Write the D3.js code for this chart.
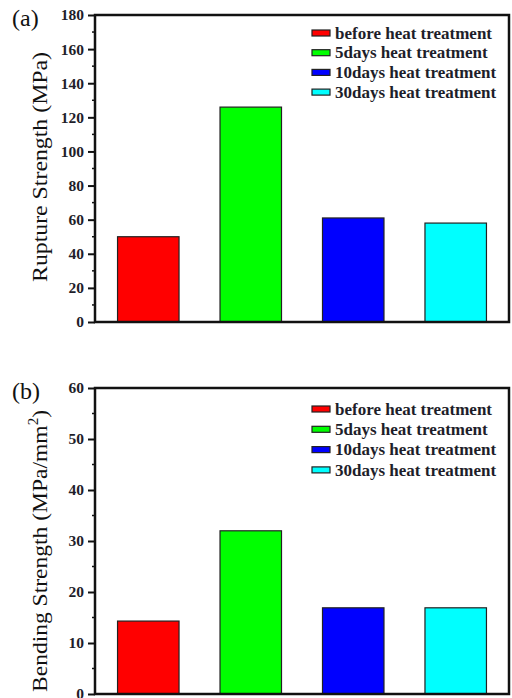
<!DOCTYPE html>
<html>
<head>
<meta charset="utf-8">
<script src="https://cdn.jsdelivr.net/npm/d3@7"></script>
<style>
  body { margin: 0; background: #fff; }
  text { font-family: "Liberation Serif", "Times New Roman", serif; }
</style>
</head>
<body>
<svg width="512" height="698"></svg>
<script>
var categories = ["before heat treatment", "5days heat treatment", "10days heat treatment", "30days heat treatment"];
var colors = ["#ff0000", "#00ff00", "#0000ff", "#00ffff"];
var ruptureValues = [50, 126, 61, 58];
var bendingValues = [14.3, 32, 16.9, 16.9];
var ruptureTicks = [0, 20, 40, 60, 80, 100, 120, 140, 160, 180];
var bendingTicks = [0, 10, 20, 30, 40, 50, 60];

var svg = d3.select("svg");

function drawPanel(p) {
    var g = svg.append("g");

    var x = d3.scaleBand()
        .domain(categories)
        .range([p.left, p.right])
        .paddingInner(0.4)
        .paddingOuter(0.22);

    var y = d3.scaleLinear()
        .domain([0, p.max])
        .range([p.bottom, p.top]);

    // minor ticks
    var minor = d3.range(p.minorStep, p.max, p.minorStep * 2);
    g.append("g")
        .selectAll("line")
        .data(minor)
        .enter()
        .append("line")
        .attr("x1", p.left - 3)
        .attr("x2", p.left)
        .attr("y1", d => y(d))
        .attr("y2", d => y(d))
        .attr("stroke", "#111")
        .attr("stroke-width", 1.5);

    var yAxis = g.append("g")
        .attr("transform", `translate(${p.left},0)`)
        .call(d3.axisLeft(y).tickValues(p.ticks).tickSize(7).tickPadding(4).tickSizeOuter(0));
    yAxis.select(".domain").remove();
    yAxis.selectAll(".tick line").attr("stroke", "#111").attr("stroke-width", 2);
    yAxis.selectAll(".tick text")
        .attr("font-weight", "bold")
        .attr("font-size", 15.5)
        .attr("fill", "#1e1e2a");

    // bars
    g.append("g")
        .selectAll("rect")
        .data(p.values)
        .enter()
        .append("rect")
        .attr("x", (d, i) => x(categories[i]))
        .attr("y", d => y(d))
        .attr("width", x.bandwidth())
        .attr("height", d => p.bottom - y(d))
        .attr("fill", (d, i) => colors[i])
        .attr("stroke", "#222")
        .attr("stroke-width", 1.2);

    // frame
    g.append("rect")
        .attr("x", p.left)
        .attr("y", p.top)
        .attr("width", p.right - p.left)
        .attr("height", p.bottom - p.top)
        .attr("fill", "none")
        .attr("stroke", "#111")
        .attr("stroke-width", 2.5);

    // legend
    var legend = g.append("g")
        .selectAll("g")
        .data(categories)
        .enter()
        .append("g")
        .attr("transform", (d, i) => `translate(312,${p.top + p.legendTop + i * p.legendStep})`);

    legend.append("rect")
        .attr("x", 0)
        .attr("y", -3)
        .attr("width", 18)
        .attr("height", 6)
        .attr("fill", (d, i) => colors[i])
        .attr("stroke", "#222")
        .attr("stroke-width", 1.2);

    legend.append("text")
        .attr("x", 23)
        .attr("dy", "0.33em")
        .attr("font-size", 17)
        .attr("font-weight", "bold")
        .attr("fill", "#1e1e2a")
        .text(d => d);

    // y label
    var label = g.append("text")
        .attr("transform", `translate(47,${p.labelY}) rotate(-90)`)
        .attr("text-anchor", "middle")
        .attr("font-size", 22)
        .attr("fill", "#111")
        .attr("textLength", p.labelLength)
        .attr("lengthAdjust", "spacingAndGlyphs");
    label.append("tspan").text(p.label);
    if (p.sup) {
        label.append("tspan").attr("font-size", 14).attr("dy", -9).text(p.sup);
        label.append("tspan").attr("dy", 9).text(")");
    }

    // panel tag
    g.append("text")
        .attr("x", 12)
        .attr("y", p.top + 11)
        .attr("font-size", 24)
        .attr("fill", "#111")
        .text(p.tag);
}

drawPanel({
    tag: "(a)", values: ruptureValues, ticks: ruptureTicks, max: 180, minorStep: 10,
    left: 95, right: 509, top: 15, bottom: 322,
    legendTop: 18, legendStep: 19.7,
    label: "Rupture Strength (MPa)", labelY: 167, labelLength: 230
});

drawPanel({
    tag: "(b)", values: bendingValues, ticks: bendingTicks, max: 60, minorStep: 5,
    left: 95, right: 509, top: 388, bottom: 694,
    legendTop: 21, legendStep: 20.3,
    label: "Bending Strength (MPa/mm", sup: "2", labelY: 551, labelLength: 282
});
</script>
</body>
</html>
